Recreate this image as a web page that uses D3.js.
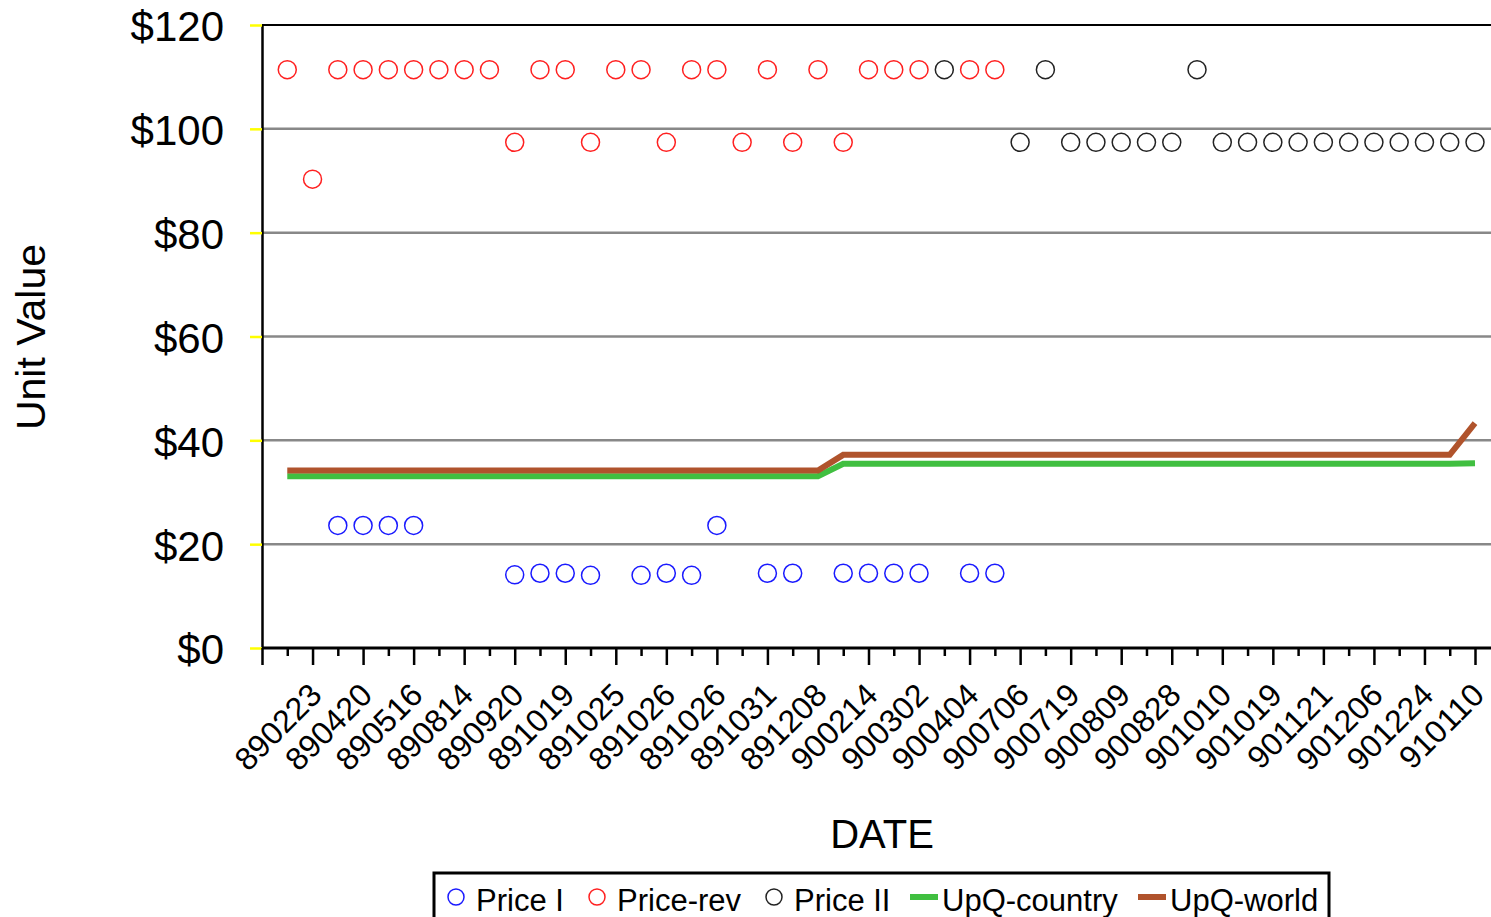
<!DOCTYPE html>
<html>
<head>
<meta charset="utf-8">
<script src="https://cdn.jsdelivr.net/npm/d3@7"></script>
<style>
  body { margin: 0; background: #fff; }
  text { font-family: "Liberation Sans", Arial, sans-serif; fill: #000; }
</style>
</head>
<body>
<script>
var w = 1491,
    h = 917;

// tick labels shown on every second category (odd index)
var tickLabels = ['890223', '890420', '890516', '890814', '890920', '891019',
                  '891025', '891026', '891026', '891031', '891208', '900214',
                  '900302', '900404', '900706', '900719', '900809', '900828',
                  '901010', '901019', '901121', '901206', '901224', '910110'];

var yTicks = [0, 20, 40, 60, 80, 100, 120];

// 48 observations, null = no value
var priceI = [null, null, 23.6, 23.6, 23.6, 23.6, null, null, null, 14.1,
              14.4, 14.4, 14.0, null, 14.0, 14.4, 14.0, 23.6, null, 14.4,
              14.4, null, 14.4, 14.4, 14.4, 14.4, null, 14.4, 14.4, null,
              null, null, null, null, null, null, null, null, null, null,
              null, null, null, null, null, null, null, null];

var priceRev = [111.4, 90.3, 111.4, 111.4, 111.4, 111.4, 111.4, 111.4, 111.4, 97.4,
                111.4, 111.4, 97.4, 111.4, 111.4, 97.4, 111.4, 111.4, 97.4, 111.4,
                97.4, 111.4, 97.4, 111.4, 111.4, 111.4, null, 111.4, 111.4, null,
                null, null, null, null, null, null, null, null, null, null,
                null, null, null, null, null, null, null, null];

var priceII = [null, null, null, null, null, null, null, null, null, null,
               null, null, null, null, null, null, null, null, null, null,
               null, null, null, null, null, null, 111.4, null, null, 97.4,
               111.4, 97.4, 97.4, 97.4, 97.4, 97.4, 111.4, 97.4, 97.4, 97.4,
               97.4, 97.4, 97.4, 97.4, 97.4, 97.4, 97.4, 97.4];

var upqCountry = [33.1, 33.1, 33.1, 33.1, 33.1, 33.1, 33.1, 33.1, 33.1, 33.1,
                  33.1, 33.1, 33.1, 33.1, 33.1, 33.1, 33.1, 33.1, 33.1, 33.1,
                  33.1, 33.1, 35.5, 35.5, 35.5, 35.5, 35.5, 35.5, 35.5, 35.5,
                  35.5, 35.5, 35.5, 35.5, 35.5, 35.5, 35.5, 35.5, 35.5, 35.5,
                  35.5, 35.5, 35.5, 35.5, 35.5, 35.5, 35.5, 35.6];

var upqWorld = [34.2, 34.2, 34.2, 34.2, 34.2, 34.2, 34.2, 34.2, 34.2, 34.2,
                34.2, 34.2, 34.2, 34.2, 34.2, 34.2, 34.2, 34.2, 34.2, 34.2,
                34.2, 34.2, 37.2, 37.2, 37.2, 37.2, 37.2, 37.2, 37.2, 37.2,
                37.2, 37.2, 37.2, 37.2, 37.2, 37.2, 37.2, 37.2, 37.2, 37.2,
                37.2, 37.2, 37.2, 37.2, 37.2, 37.2, 37.2, 43.3];

var color = {priceI: '#1a1aff', priceRev: '#ff2020', priceII: '#222222',
             country: '#40bf40', world: '#b0532c'};

var plotLeft = 262, plotTop = 25, plotBottom = 648;

var x = d3.scaleLinear().domain([-1, 47]).range([plotLeft, 1475]);
var y = d3.scaleLinear().domain([0, 120]).range([plotBottom, plotTop]);

var svg = d3.select("body")
          .append("svg")
          .attr("width", w)
          .attr("height", h);

// gridlines
svg.selectAll(".grid")
   .data(yTicks.filter(function(d) { return d > 0 && d < 120; }))
   .enter().append("line")
   .attr("x1", plotLeft).attr("x2", w)
   .attr("y1", function(d) { return y(d); })
   .attr("y2", function(d) { return y(d); })
   .attr("stroke", "#888")
   .attr("stroke-width", 2.5);

// top frame
svg.append("line")
   .attr("x1", plotLeft).attr("x2", w)
   .attr("y1", plotTop).attr("y2", plotTop)
   .attr("stroke", "#000").attr("stroke-width", 2);

// y axis
var yAxis = svg.append("g")
   .attr("transform", "translate(" + plotLeft + ",0)")
   .call(d3.axisLeft(y).tickValues(yTicks).tickSize(12).tickSizeOuter(0).tickPadding(26)
           .tickFormat(function(d) { return "$" + d; }));
yAxis.select(".domain").attr("stroke", "#000").attr("stroke-width", 2.5);
yAxis.selectAll(".tick line").attr("stroke", "#ffff00").attr("stroke-width", 2.5);
yAxis.selectAll(".tick text")
     .attr("font-size", 42)
     .attr("dy", "0.38em")
     .attr("font-family", "Liberation Sans, Arial, sans-serif")
     .attr("fill", "#000");

// x axis
var xAxis = svg.append("g")
   .attr("transform", "translate(0," + plotBottom + ")")
   .call(d3.axisBottom(x).tickValues(d3.range(-1, 48)).tickSizeOuter(0)
           .tickFormat(""));
xAxis.select(".domain").attr("stroke", "none");
xAxis.append("line")
     .attr("x1", plotLeft).attr("x2", w)
     .attr("stroke", "#000").attr("stroke-width", 3);
xAxis.selectAll(".tick line")
     .attr("stroke", "#000").attr("stroke-width", 2.5)
     .attr("y2", function(d) { return Math.abs(d % 2) === 1 ? 17 : 8; });

svg.selectAll(".xlab")
   .data(tickLabels)
   .enter().append("text")
   .attr("text-anchor", "end")
   .attr("font-size", 32)
   .attr("transform", function(d, i) {
     var tx = x(i * 2 + 1) + 11, ty = plotBottom + 49;
     return "translate(" + tx + "," + ty + ") rotate(-45)";
   })
   .text(function(d) { return d; });

// axis titles
svg.append("text")
   .attr("text-anchor", "middle")
   .attr("font-size", 41)
   .attr("transform", "translate(45,337) rotate(-90)")
   .text("Unit Value");

svg.append("text")
   .attr("text-anchor", "middle")
   .attr("font-size", 40)
   .attr("x", 882).attr("y", 848)
   .text("DATE");

// lines
var line = d3.line()
   .defined(function(d) { return d != null; })
   .x(function(d, i) { return x(i); })
   .y(function(d) { return y(d); });

svg.append("path")
   .attr("d", line(upqCountry))
   .attr("fill", "none").attr("stroke", color.country).attr("stroke-width", 6);

svg.append("path")
   .attr("d", line(upqWorld))
   .attr("fill", "none").attr("stroke", color.world).attr("stroke-width", 6);

// points
function dots(values, c) {
  svg.append("g").selectAll("circle")
     .data(values.map(function(v, i) { return {i: i, v: v}; })
                 .filter(function(d) { return d.v != null; }))
     .enter().append("circle")
     .attr("cx", function(d) { return x(d.i); })
     .attr("cy", function(d) { return y(d.v); })
     .attr("r", 9)
     .attr("fill", "none")
     .attr("stroke", c)
     .attr("stroke-width", 1.5);
}
dots(priceI, color.priceI);
dots(priceRev, color.priceRev);
dots(priceII, color.priceII);

// legend
var lg = svg.append("g");
lg.append("rect")
  .attr("x", 434).attr("y", 873).attr("width", 895).attr("height", 70)
  .attr("fill", "none").attr("stroke", "#000").attr("stroke-width", 3);

var legendItems = [
  {name: "Price I", type: "circle", c: color.priceI, x: 456},
  {name: "Price-rev", type: "circle", c: color.priceRev, x: 597},
  {name: "Price II", type: "circle", c: color.priceII, x: 774},
  {name: "UpQ-country", type: "line", c: color.country, x: 910},
  {name: "UpQ-world", type: "line", c: color.world, x: 1138}
];

legendItems.forEach(function(it) {
  var tx;
  if (it.type === "circle") {
    lg.append("circle")
      .attr("cx", it.x).attr("cy", 897).attr("r", 8)
      .attr("fill", "none").attr("stroke", it.c).attr("stroke-width", 1.5);
    tx = it.x + 20;
  } else {
    lg.append("rect")
      .attr("x", it.x).attr("y", 894).attr("width", 28).attr("height", 6)
      .attr("fill", it.c);
    tx = it.x + 32;
  }
  lg.append("text")
    .attr("x", tx).attr("y", 911)
    .attr("font-size", 31)
    .text(it.name);
});
</script>
</body>
</html>
